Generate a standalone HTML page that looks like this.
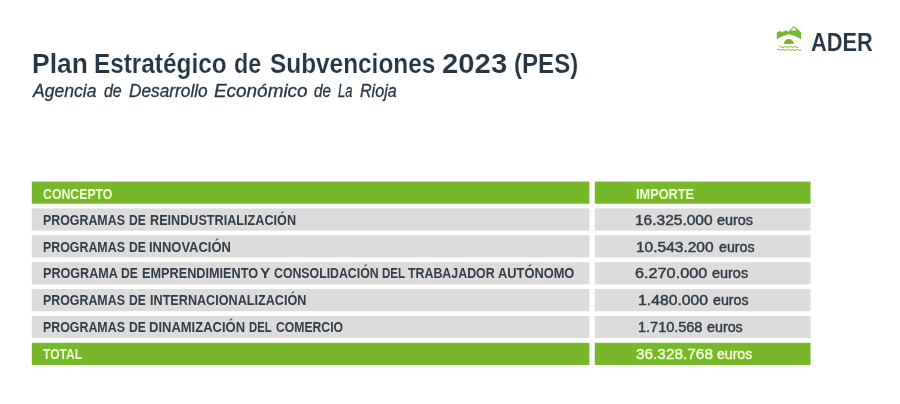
<!DOCTYPE html>
<html lang="es">
<head>
<meta charset="utf-8">
<title>Plan Estratégico de Subvenciones 2023 (PES)</title>
<style>
html,body{margin:0;padding:0;background:#fff;}
body{width:900px;height:404px;position:relative;overflow:hidden;font-family:"Liberation Sans",sans-serif;}
.t{position:absolute;white-space:nowrap;transform-origin:0 0;display:block;}
.b{font-weight:bold;}
.i{font-style:italic;-webkit-text-stroke:0.3px #263645;}
.m{-webkit-text-stroke:0.45px currentColor;}
.bars{position:absolute;left:0;top:0;}
.logo{position:absolute;left:776px;top:24px;}
</style>
</head>
<body>
<h1 style="margin:0;font-size:inherit;font-weight:inherit"><span class="t b" style="left:31.87px;top:49px;font-size:27px;line-height:30px;color:#263645;-webkit-text-stroke:0.15px #fff;transform:scaleX(0.9798)">Plan</span> <span class="t b" style="left:94.31px;top:49px;font-size:27px;line-height:30px;color:#263645;-webkit-text-stroke:0.15px #fff;transform:scaleX(0.9013)">Estratégico</span> <span class="t b" style="left:234.01px;top:49px;font-size:27px;line-height:30px;color:#263645;-webkit-text-stroke:0.15px #fff;transform:scaleX(0.8610)">de</span> <span class="t b" style="left:269.75px;top:49px;font-size:27px;line-height:30px;color:#263645;-webkit-text-stroke:0.15px #fff;transform:scaleX(0.9030)">Subvenciones</span> <span class="t b" style="left:442.20px;top:49px;font-size:27px;line-height:30px;color:#263645;-webkit-text-stroke:0.15px #fff;transform:scaleX(1.0854)">2023</span> <span class="t b" style="left:514.40px;top:49px;font-size:27px;line-height:30px;color:#263645;-webkit-text-stroke:0.15px #fff;transform:scaleX(0.8919)">(PES)</span></h1>
<p style="margin:0"><span class="t i" style="left:32.64px;top:80px;font-size:18.5px;line-height:21px;color:#263645;transform:scaleX(0.9506)">Agencia</span> <span class="t i" style="left:104.13px;top:80px;font-size:18.5px;line-height:21px;color:#263645;transform:scaleX(0.8619)">de</span> <span class="t i" style="left:128.77px;top:80px;font-size:18.5px;line-height:21px;color:#263645;transform:scaleX(0.9337)">Desarrollo</span> <span class="t i" style="left:213.66px;top:80px;font-size:18.5px;line-height:21px;color:#263645;transform:scaleX(1.0223)">Económico</span> <span class="t i" style="left:313.85px;top:80px;font-size:18.5px;line-height:21px;color:#263645;transform:scaleX(0.8266)">de</span> <span class="t i" style="left:337.90px;top:80px;font-size:18.5px;line-height:21px;color:#263645;transform:scaleX(0.7005)">La</span> <span class="t i" style="left:360.08px;top:80px;font-size:18.5px;line-height:21px;color:#263645;transform:scaleX(0.8700)">Rioja</span></p>
<svg class="logo" width="27" height="28" viewBox="0 0 27 28">
<path d="M0.8 8.7 L2 7.6 L2.8 8.1 L3.7 6.6 L4.6 7.7 L5.4 7.3 L6.3 8.5 L7.4 7.2 L8.2 7.6 L9.1 5.9 L10 7.1 L10.9 6.8 L12.4 7.8 L17.9 2 L20.6 4.5 L22.4 5.7 L25.1 8.6 L25.1 15.2 Q19 11.2 12.8 10.2 Q6.6 11.2 0.8 15.2 Z" fill="#76b82a"/>
<path d="M17.9 3.2 L20.8 6.7 L19.4 6.1 L18.3 7.3 L17.2 6.1 L16.1 7 L15.2 6.3 Z" fill="#fff"/>
<path d="M7.9 19.9 A4.9 4.9 0 0 1 17.7 19.9 Z" fill="#76b82a"/>
<path d="M3.2 23 q1.2 -1.1 2.4 0 t2.4 0 t2.4 0 t2.4 0 t2.4 0 t2.4 0 t2.4 0 t2.4 0" fill="none" stroke="#76b82a" stroke-width="1"/>
<path d="M1 25.9 q1.2 -1.1 2.4 0 t2.4 0 t2.4 0 t2.4 0 t2.4 0 t2.4 0 t2.4 0 t2.4 0 t2.4 0 t2.4 0" fill="none" stroke="#76b82a" stroke-width="1"/>
</svg>
<span class="t b" style="left:810.70px;top:27px;font-size:26px;line-height:30px;color:#263645;-webkit-text-stroke:0.15px #fff;transform:scaleX(0.8386)">ADER</span>
<svg class="bars" width="900" height="404" viewBox="0 0 900 404">
<rect x="31.8" y="181.55" width="557.6" height="22.2" fill="#76b82a"/><rect x="594.8" y="181.55" width="215.7" height="22.2" fill="#76b82a"/>
<rect x="31.8" y="208.42" width="557.6" height="22.2" fill="#dcdcdc"/><rect x="594.8" y="208.42" width="215.7" height="22.2" fill="#dcdcdc"/>
<rect x="31.8" y="235.29" width="557.6" height="22.2" fill="#dcdcdc"/><rect x="594.8" y="235.29" width="215.7" height="22.2" fill="#dcdcdc"/>
<rect x="31.8" y="262.16" width="557.6" height="22.2" fill="#dcdcdc"/><rect x="594.8" y="262.16" width="215.7" height="22.2" fill="#dcdcdc"/>
<rect x="31.8" y="289.03" width="557.6" height="22.2" fill="#dcdcdc"/><rect x="594.8" y="289.03" width="215.7" height="22.2" fill="#dcdcdc"/>
<rect x="31.8" y="315.90" width="557.6" height="22.2" fill="#dcdcdc"/><rect x="594.8" y="315.90" width="215.7" height="22.2" fill="#dcdcdc"/>
<rect x="31.8" y="342.77" width="557.6" height="22.2" fill="#76b82a"/><rect x="594.8" y="342.77" width="215.7" height="22.2" fill="#76b82a"/>
</svg>
<div class="table">
<div class="row"><div><span class="t b" style="left:43.32px;top:185px;font-size:15px;line-height:17px;color:#f2ffd6;transform:scaleX(0.8193)">CONCEPTO</span></div> <div><span class="t b" style="left:635.60px;top:185px;font-size:15px;line-height:17px;color:#f2ffd6;transform:scaleX(0.8506)">IMPORTE</span></div></div>
<div class="row"><div><span class="t b" style="left:43.13px;top:212px;font-size:14px;line-height:16px;color:#313d4a;transform:scaleX(0.8848)">PROGRAMAS</span> <span class="t b" style="left:129.04px;top:212px;font-size:14px;line-height:16px;color:#313d4a;transform:scaleX(0.8677)">DE</span> <span class="t b" style="left:149.51px;top:212px;font-size:14px;line-height:16px;color:#313d4a;transform:scaleX(0.9026)">REINDUSTRIALIZACIÓN</span></div> <div><span class="t m" style="left:635.28px;top:212px;font-size:14px;line-height:16px;color:#313d4a;transform:scaleX(1.1067)">16.325.000</span> <span class="t m" style="left:717.48px;top:212px;font-size:14px;line-height:16px;color:#313d4a;transform:scaleX(1.0287)">euros</span></div></div>
<div class="row"><div><span class="t b" style="left:43.13px;top:239px;font-size:14px;line-height:16px;color:#313d4a;transform:scaleX(0.8848)">PROGRAMAS</span> <span class="t b" style="left:129.04px;top:239px;font-size:14px;line-height:16px;color:#313d4a;transform:scaleX(0.8677)">DE</span> <span class="t b" style="left:149.49px;top:239px;font-size:14px;line-height:16px;color:#313d4a;transform:scaleX(0.9258)">INNOVACIÓN</span></div> <div><span class="t m" style="left:636.18px;top:239px;font-size:14px;line-height:16px;color:#313d4a;transform:scaleX(1.1067)">10.543.200</span> <span class="t m" style="left:718.68px;top:239px;font-size:14px;line-height:16px;color:#313d4a;transform:scaleX(1.0143)">euros</span></div></div>
<div class="row"><div><span class="t b" style="left:43.11px;top:265px;font-size:14px;line-height:16px;color:#313d4a;transform:scaleX(0.9002)">PROGRAMA</span> <span class="t b" style="left:121.24px;top:265px;font-size:14px;line-height:16px;color:#313d4a;transform:scaleX(0.8677)">DE</span> <span class="t b" style="left:142.01px;top:265px;font-size:14px;line-height:16px;color:#313d4a;transform:scaleX(0.9067)">EMPRENDIMIENTO</span> <span class="t b" style="left:259.56px;top:265px;font-size:14px;line-height:16px;color:#313d4a;transform:scaleX(1.1143)">Y</span> <span class="t b" style="left:274.02px;top:265px;font-size:14px;line-height:16px;color:#313d4a;transform:scaleX(0.8790)">CONSOLIDACIÓN</span> <span class="t b" style="left:382.38px;top:265px;font-size:14px;line-height:16px;color:#313d4a;transform:scaleX(0.8257)">DEL</span> <span class="t b" style="left:407.60px;top:265px;font-size:14px;line-height:16px;color:#313d4a;transform:scaleX(0.8840)">TRABAJADOR</span> <span class="t b" style="left:498.20px;top:265px;font-size:14px;line-height:16px;color:#313d4a;transform:scaleX(0.9176)">AUTÓNOMO</span></div> <div><span class="t m" style="left:635.20px;top:265px;font-size:14px;line-height:16px;color:#313d4a;transform:scaleX(1.1597)">6.270.000</span> <span class="t m" style="left:712.08px;top:265px;font-size:14px;line-height:16px;color:#313d4a;transform:scaleX(1.0316)">euros</span></div></div>
<div class="row"><div><span class="t b" style="left:43.13px;top:292px;font-size:14px;line-height:16px;color:#313d4a;transform:scaleX(0.8848)">PROGRAMAS</span> <span class="t b" style="left:129.04px;top:292px;font-size:14px;line-height:16px;color:#313d4a;transform:scaleX(0.8677)">DE</span> <span class="t b" style="left:149.51px;top:292px;font-size:14px;line-height:16px;color:#313d4a;transform:scaleX(0.9019)">INTERNACIONALIZACIÓN</span></div> <div><span class="t m" style="left:638.27px;top:292px;font-size:14px;line-height:16px;color:#313d4a;transform:scaleX(1.1248)">1.480.000</span> <span class="t m" style="left:713.38px;top:292px;font-size:14px;line-height:16px;color:#313d4a;transform:scaleX(1.0143)">euros</span></div></div>
<div class="row"><div><span class="t b" style="left:43.13px;top:319px;font-size:14px;line-height:16px;color:#313d4a;transform:scaleX(0.8848)">PROGRAMAS</span> <span class="t b" style="left:129.04px;top:319px;font-size:14px;line-height:16px;color:#313d4a;transform:scaleX(0.8677)">DE</span> <span class="t b" style="left:149.49px;top:319px;font-size:14px;line-height:16px;color:#313d4a;transform:scaleX(0.9288)">DINAMIZACIÓN</span> <span class="t b" style="left:249.29px;top:319px;font-size:14px;line-height:16px;color:#313d4a;transform:scaleX(0.8071)">DEL</span> <span class="t b" style="left:276.02px;top:319px;font-size:14px;line-height:16px;color:#313d4a;transform:scaleX(0.8704)">COMERCIO</span></div> <div><span class="t m" style="left:638.33px;top:319px;font-size:14px;line-height:16px;color:#313d4a;transform:scaleX(1.0342)">1.710.568</span> <span class="t m" style="left:707.08px;top:319px;font-size:14px;line-height:16px;color:#313d4a;transform:scaleX(1.0200)">euros</span></div></div>
<div class="row"><div><span class="t b" style="left:43.20px;top:345px;font-size:15px;line-height:17px;color:#f2ffd6;transform:scaleX(0.8024)">TOTAL</span></div> <div><span class="t m" style="left:635.75px;top:345px;font-size:15px;line-height:17px;color:#f2ffd6;transform:scaleX(1.0248)">36.328.768</span> <span class="t m" style="left:716.87px;top:345px;font-size:15px;line-height:17px;color:#f2ffd6;transform:scaleX(0.9394)">euros</span></div></div>
</div>
</body>
</html>
